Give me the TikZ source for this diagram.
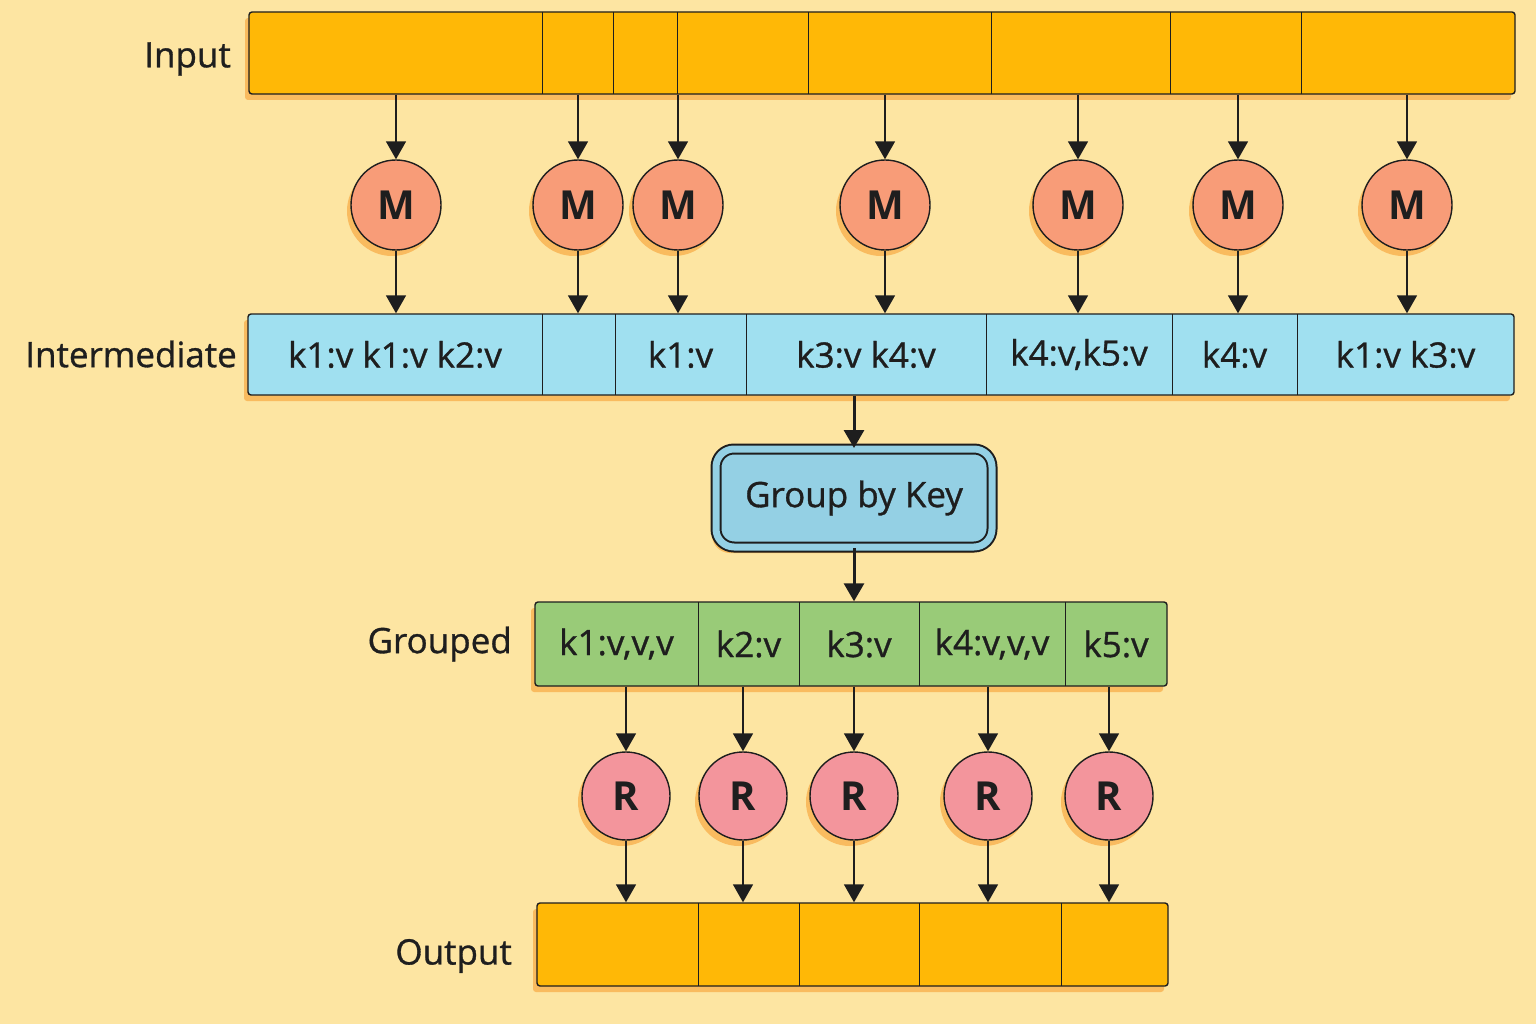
\documentclass[tikz,border=0pt]{standalone}
\usepackage{fontspec}
\setmainfont{Open Sans}
\newfontfamily\medfont{Open Sans}[FakeBold=0.9]
\usetikzlibrary{arrows.meta,shadows}
\definecolor{bgc}{HTML}{FDE5A2}
\definecolor{inc}{HTML}{FFB806}
\definecolor{imc}{HTML}{A0E0F0}
\definecolor{grpc}{HTML}{94D0E4}
\definecolor{grc}{HTML}{99CB78}
\definecolor{mc}{HTML}{F89C78}
\definecolor{rc}{HTML}{F3959C}
\definecolor{shc}{HTML}{F9BB5F}
\definecolor{linec}{HTML}{1E1E1E}
\newcommand{\cellnode}[6]{\node[cellbox, minimum width={(#3-#2)*1pt}, minimum height=#5pt] (#1) at ({(#2+#3)/2},#4) {#6};}
\begin{document}
\begin{tikzpicture}[x=1pt,y=-1pt,
  shd/.style={general shadow={fill=shc, shadow xshift=-4pt, shadow yshift=-6pt}},
  bar/.style={draw=linec, line width=1.4pt, rounded corners=3pt, shd, inner sep=0pt},
  cellbox/.style={inner sep=0pt, font=\medfont\fontsize{35}{40}\selectfont, text=linec},
  div/.style={draw=linec, line width=1.2pt},
  lbl/.style={inner sep=0pt, anchor=east, font=\medfont\fontsize{35}{40}\selectfont, text=linec},
  mnode/.style={circle, draw=linec, line width=1.4pt, fill=mc, minimum size=90pt, inner sep=0pt, shd, font=\fontsize{40}{44}\selectfont\bfseries, text=linec},
  rnode/.style={circle, draw=linec, line width=1.4pt, fill=rc, minimum size=88pt, inner sep=0pt, shd, font=\fontsize{40}{44}\selectfont\bfseries, text=linec},
  arr/.style={draw=linec, line width=1.6pt, -{Triangle[width=20pt,length=18pt]}},
  arrthick/.style={draw=linec, line width=3pt, -{Triangle[width=20pt,length=18pt]}}
]
\fill[bgc] (0,0) rectangle (1536,1024);
\useasboundingbox (0,0) rectangle (1536,1024);

% Labels
\node[lbl] (linput) at (231,59) {Input};
\node[lbl] (linter) at (237,354) {Intermediate};
\node[lbl] (lgroup) at (512,644) {Grouped};
\node[lbl] (lout) at (512,956) {Output};

% Input bar
\node[bar, fill=inc, minimum width=1266pt, minimum height=82pt] (inbar) at (882,53) {};
\cellnode{in1}{249}{542}{53}{82}{}
\cellnode{in2}{542}{613}{53}{82}{}
\cellnode{in3}{613}{677}{53}{82}{}
\cellnode{in4}{677}{808}{53}{82}{}
\cellnode{in5}{808}{991}{53}{82}{}
\cellnode{in6}{991}{1170}{53}{82}{}
\cellnode{in7}{1170}{1301}{53}{82}{}
\cellnode{in8}{1301}{1515}{53}{82}{}
\foreach \c in {in1,in2,in3,in4,in5,in6,in7} \draw[div] (\c.north east) -- (\c.south east);

% Map circles
\node[mnode] (m1) at (396,205) {M};
\node[mnode] (m2) at (578,205) {M};
\node[mnode] (m3) at (678,205) {M};
\node[mnode] (m4) at (885,205) {M};
\node[mnode] (m5) at (1078,205) {M};
\node[mnode] (m6) at (1238,205) {M};
\node[mnode] (m7) at (1407,205) {M};

% Intermediate bar
\node[bar, fill=imc, minimum width=1266pt, minimum height=81pt] (imbar) at (881,354.5) {};
\cellnode{im1}{248}{542}{354.5}{81}{k1:v k1:v k2:v}
\cellnode{im2}{542}{615}{354.5}{81}{}
\cellnode{im3}{615}{746}{354.5}{81}{k1:v}
\cellnode{im4}{746}{986}{354.5}{81}{k3:v k4:v}
\cellnode{im5}{986}{1172}{354.5}{81}{k4:v,k5:v}
\cellnode{im6}{1172}{1297}{354.5}{81}{k4:v}
\cellnode{im7}{1297}{1514}{354.5}{81}{k1:v k3:v}
\foreach \c in {im1,im2,im3,im4,im5,im6} \draw[div] (\c.north east) -- (\c.south east);

\foreach \i in {1,...,7} {
  \draw[arr] (inbar.south -| m\i) -- (m\i);
  \draw[arr] (m\i) -- (m\i |- imbar.north);
}

% Group by key
\node[draw=linec, line width=2pt, double=grpc, double distance=7pt, fill=grpc, rounded corners=18pt,
  minimum width=276pt, minimum height=98pt, inner sep=0pt, shd,
  font=\medfont\fontsize{35}{40}\selectfont, text=linec] (grp) at (854,498) {Group by Key};

% Grouped bar
\node[bar, fill=grc, minimum width=632pt, minimum height=84pt] (gbar) at (851,644) {};
\cellnode{g1}{535}{698}{644}{84}{k1:v,v,v}
\cellnode{g2}{698}{799}{644}{84}{k2:v}
\cellnode{g3}{799}{919}{644}{84}{k3:v}
\cellnode{g4}{919}{1065}{644}{84}{k4:v,v,v}
\cellnode{g5}{1065}{1167}{644}{84}{k5:v}
\foreach \c in {g1,g2,g3,g4} \draw[div] (\c.north east) -- (\c.south east);

\draw[arrthick] (imbar.south -| grp) -- (grp);
\draw[arrthick] (grp) -- (grp |- gbar.north);

% Reduce circles
\node[rnode] (r1) at (626,796) {R};
\node[rnode] (r2) at (743,796) {R};
\node[rnode] (r3) at (854,796) {R};
\node[rnode] (r4) at (988,796) {R};
\node[rnode] (r5) at (1109,796) {R};

% Output bar
\node[bar, fill=inc, minimum width=631pt, minimum height=83pt] (obar) at (852.5,944.5) {};
\cellnode{o1}{537}{698}{944.5}{83}{}
\cellnode{o2}{698}{799}{944.5}{83}{}
\cellnode{o3}{799}{919}{944.5}{83}{}
\cellnode{o4}{919}{1061}{944.5}{83}{}
\cellnode{o5}{1061}{1168}{944.5}{83}{}
\foreach \c in {o1,o2,o3,o4} \draw[div] (\c.north east) -- (\c.south east);

\foreach \i in {1,...,5} {
  \draw[arr] (gbar.south -| r\i) -- (r\i);
  \draw[arr] (r\i) -- (r\i |- obar.north);
}
\end{tikzpicture}
\end{document}
